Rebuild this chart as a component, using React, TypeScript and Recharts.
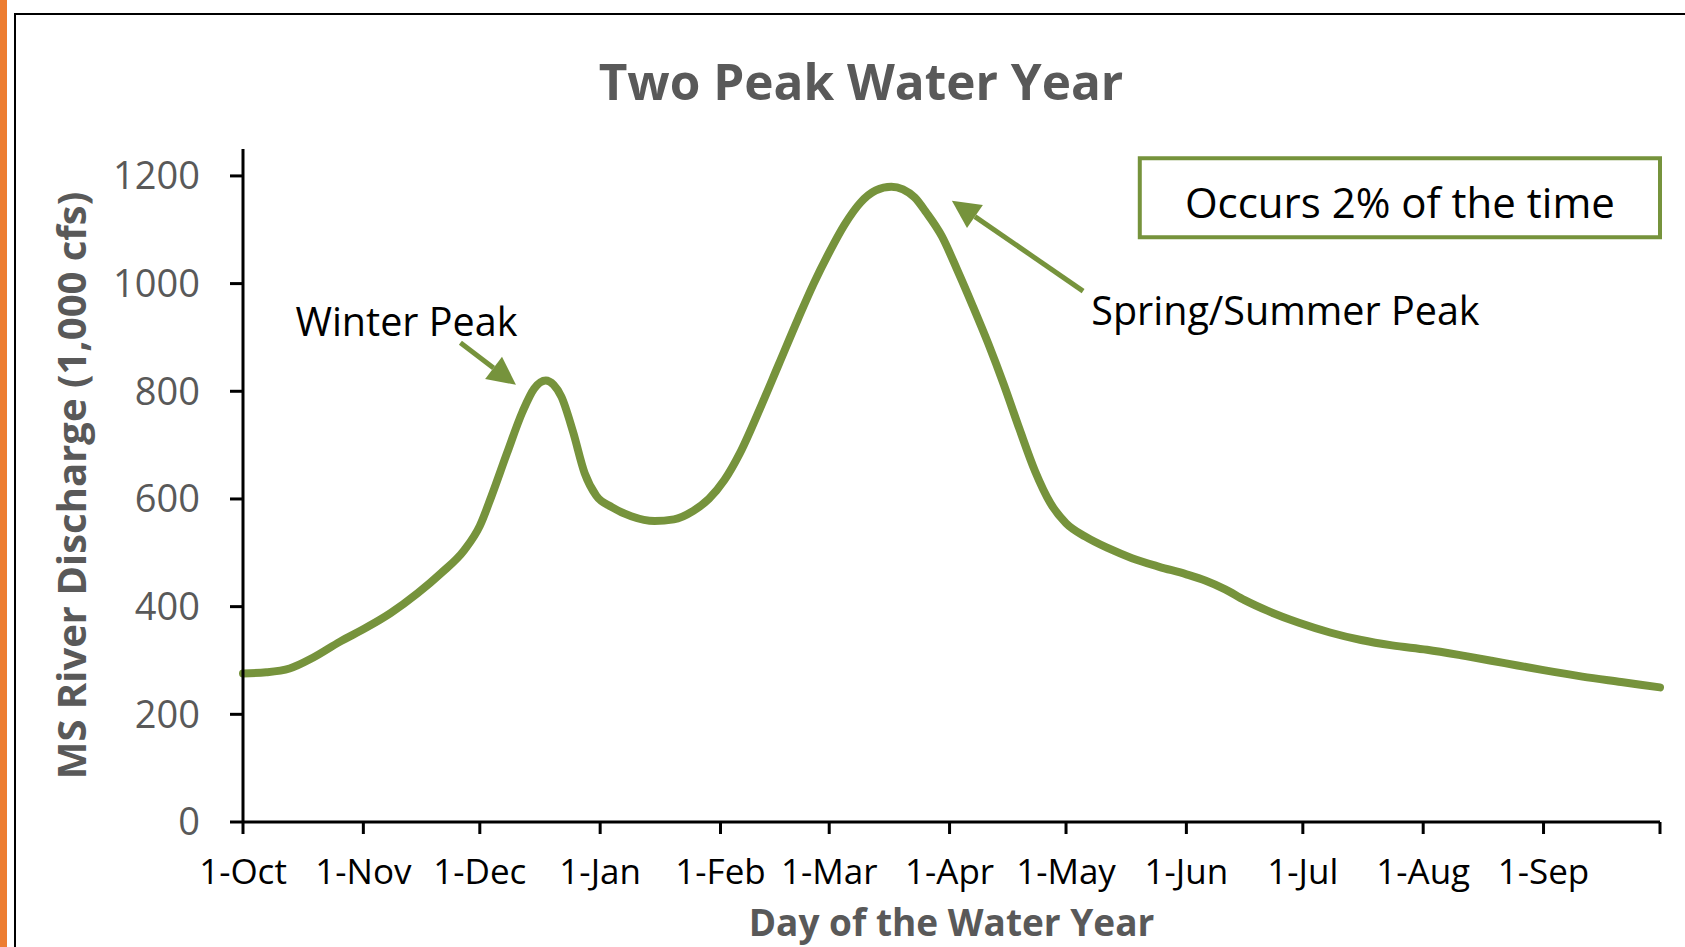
import React from "react";
import {
  LineChart,
  Line,
  XAxis,
  YAxis,
  ReferenceLine,
  ReferenceDot,
  ReferenceArea,
} from "recharts";

// day of the water year (0 = 1-Oct) and discharge in 1,000 cfs
const days = [0, 6, 12, 18, 25, 32, 38, 45, 51, 57, 61, 64, 68, 72, 75, 78, 80, 82, 85, 88, 91, 95, 100, 106, 111, 116, 120, 124, 128, 133, 138, 143, 147, 151, 155, 159, 163, 167, 170, 173, 176, 180, 184, 188, 192, 196, 200, 204, 208, 212, 217, 223, 229, 236, 243, 248, 253, 258, 264, 272, 280, 288, 296, 305, 315, 325, 335, 345, 355, 365];
const discharge = [276, 278, 285, 305, 335, 362, 388, 425, 462, 505, 550, 605, 685, 762, 805, 820, 812, 790, 725, 648, 606, 585, 568, 559, 562, 578, 600, 635, 685, 765, 850, 935, 1000, 1058, 1110, 1150, 1173, 1180, 1175, 1160, 1132, 1088, 1025, 958, 888, 812, 730, 652, 592, 555, 530, 508, 490, 474, 460, 448, 432, 412, 392, 370, 352, 338, 328, 320, 308, 295, 282, 270, 260, 250];

const monthTicks = [0, 31, 61, 92, 123, 151, 182, 212, 243, 273, 304, 335, 365];
const monthLabels = ["1-Oct", "1-Nov", "1-Dec", "1-Jan", "1-Feb", "1-Mar", "1-Apr", "1-May", "1-Jun", "1-Jul", "1-Aug", "1-Sep", ""];
const yTicks = [0, 200, 400, 600, 800, 1000, 1200];

const data = days.map((d, i) => ({ day: d, flow: discharge[i] }));

const GREEN = "#76933C";
const GRAY = "#595959";
const FONT = "'Open Sans', sans-serif";

// arrow drawn between the two ends of a reference segment
const Arrow = (props: any) => {
  const { x1, y1, x2, y2 } = props;
  const ang = Math.atan2(y2 - y1, x2 - x1);
  const len = 28;
  const half = 14;
  const bx = x2 - len * Math.cos(ang);
  const by = y2 - len * Math.sin(ang);
  const px = -Math.sin(ang) * half;
  const py = Math.cos(ang) * half;
  return (
    <g>
      <line x1={x1} y1={y1} x2={bx} y2={by} stroke={GREEN} strokeWidth={5} />
      <polygon points={`${x2},${y2} ${bx + px},${by + py} ${bx - px},${by - py}`} fill={GREEN} />
    </g>
  );
};

const note = (text: string) => (p: any) => (
  <text x={p.cx} y={p.cy} fill="#000" fontSize={39.5} fontFamily={FONT} textAnchor="start" dominantBaseline="central">
    {text}
  </text>
);

export default function App() {
  return (
    <div style={{ position: "absolute", left: 0, top: 0, width: 1685, height: 947, background: "#fff", overflow: "hidden" }}>
      <div style={{ position: "absolute", left: 0, top: 0, width: 7, height: 947, background: "#ED7D31" }} />
      <div style={{ position: "absolute", left: 14, top: 13, width: 1700, height: 960, borderLeft: "2px solid #000", borderTop: "2px solid #000" }} />
      <div
        style={{
          position: "absolute",
          left: 0,
          width: 1722,
          top: 47,
          textAlign: "center",
          fontFamily: FONT,
          fontWeight: 700,
          fontSize: 49.5,
          lineHeight: "68px",
          color: GRAY,
        }}
      >
        Two Peak Water Year
      </div>
      <div style={{ position: "absolute", left: 0, top: 0 }}>
        <LineChart width={1685} height={947} data={data} margin={{ top: 149, right: 25, bottom: 0, left: 0 }}>
          <XAxis
            dataKey="day"
            type="number"
            domain={[0, 365]}
            ticks={monthTicks}
            tickFormatter={(v: number) => monthLabels[monthTicks.indexOf(v)]}
            interval={0}
            height={125}
            stroke="#000"
            strokeWidth={3}
            tickSize={12}
            tickMargin={25}
            tick={{ fill: "#000", fontSize: 35, fontFamily: FONT }}
            label={{ value: "Day of the Water Year", position: "center", dy: 38, fill: GRAY, fontSize: 37, fontWeight: 700, fontFamily: FONT }}
          />
          <YAxis
            type="number"
            domain={[0, 1250]}
            ticks={yTicks}
            interval={0}
            width={243}
            stroke="#000"
            strokeWidth={3}
            tickSize={13}
            tickMargin={30}
            tick={{ fill: GRAY, fontSize: 38, fontFamily: FONT }}
            label={{ value: "MS River Discharge (1,000 cfs)", angle: -90, position: "center", dx: -50, fill: GRAY, fontSize: 40, fontWeight: 700, fontFamily: FONT }}
          />
          <ReferenceArea
            x1={231}
            x2={365}
            y1={1086}
            y2={1233}
            fill="#fff"
            fillOpacity={1}
            stroke={GREEN}
            strokeWidth={4}
            label={{ value: "Occurs 2% of the time", position: "center", dy: 5, fill: "#000", fontSize: 42, fontFamily: FONT }}
          />
          <ReferenceLine segment={[{ x: 56, y: 890 }, { x: 70.3, y: 812 }]} shape={Arrow} />
          <ReferenceLine segment={[{ x: 216.4, y: 986 }, { x: 182.6, y: 1154 }]} shape={Arrow} />
          <ReferenceDot x={13.5} y={930} r={0} shape={note("Winter Peak")} />
          <ReferenceDot x={218.5} y={951} r={0} shape={note("Spring/Summer Peak")} />
          <Line
            type="monotone"
            dataKey="flow"
            stroke={GREEN}
            strokeWidth={8}
            dot={false}
            activeDot={false}
            strokeLinecap="round"
            isAnimationActive={false}
          />
        </LineChart>
      </div>
    </div>
  );
}
